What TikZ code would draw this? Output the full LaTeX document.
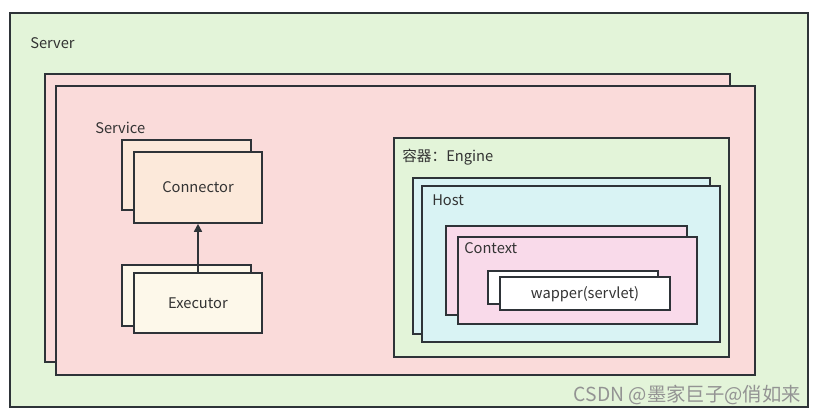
\documentclass[tikz,border=0pt]{standalone}
\usepackage{fontspec}
\setmainfont{Noto Sans CJK SC}
\usetikzlibrary{fit,arrows.meta}
\definecolor{edge}{HTML}{2E3338}
\definecolor{txt}{HTML}{333333}
\definecolor{srvgreen}{HTML}{E3F4D9}
\definecolor{svcpink}{HTML}{FADBDA}
\definecolor{connc}{HTML}{FCE9DA}
\definecolor{execc}{HTML}{FDF8EA}
\definecolor{hostc}{HTML}{D9F3F4}
\definecolor{ctxc}{HTML}{F9DAEA}
\tikzset{
  box/.style={draw=edge, line width=1.2pt, inner sep=0pt, rectangle},
  lbl/.style={text=txt, font=\fontsize{11pt}{13pt}\selectfont, inner sep=0pt},
  arr/.style={draw=edge, line width=1.2pt, -{Triangle[length=6pt,width=6pt]}},
  wmark/.style={text=gray!85, font=\fontsize{14.5pt}{17pt}\selectfont, inner sep=0pt}
}
\begin{document}
\begin{tikzpicture}[x=0.75pt,y=-0.75pt]
\useasboundingbox[fill=white] (0,0) rectangle (815,414);
% Server
\node[box, fill=srvgreen, fit={(10,13) (808,407)}] (server) {};
\node[lbl, anchor=west] (serverlbl) at (30,43) {Server};
% Service (stacked)
\node[box, fill=svcpink, fit={(45,74) (730,362)}] (svcback) {};
\node[box, fill=svcpink, fit={(56,86) (755,375)}] (svc) {};
\node[lbl, anchor=west] (svclbl) at (95,128) {Service};
% Connector
\node[box, fill=connc, fit={(122,140) (251,210)}] (connback) {};
\node[box, fill=connc, fit={(134,152) (262,223)}] (conn) {};
\node[lbl] (connlbl) at (198,187) {Connector};
% Executor
\node[box, fill=execc, fit={(122,265) (251,326)}] (execback) {};
\node[box, fill=execc, fit={(134,273) (262,333)}] (exec) {};
\node[lbl] (execlbl) at (198,303) {Executor};
\draw[arr] (exec.north) -- (conn.south);
% Engine
\node[box, fill=srvgreen, fit={(394,138) (729,357)}] (engine) {};
\node[lbl, anchor=west] (enginelbl) at (402,157) {容器：Engine};
% Host
\node[box, fill=hostc, fit={(413,178) (710,334)}] (hostback) {};
\node[box, fill=hostc, fit={(422,186) (720,342)}] (host) {};
\node[lbl, anchor=west] (hostlbl) at (432,200) {Host};
% Context
\node[box, fill=ctxc, fit={(446,226) (687,315)}] (ctxback) {};
\node[box, fill=ctxc, fit={(458,237) (697,324)}] (ctx) {};
\node[lbl, anchor=west] (ctxlbl) at (464,248) {Context};
% Wrapper
\node[box, fill=white, fit={(488,271) (658,304)}] (wrapback) {};
\node[box, fill=white, fit={(500,277) (670,310)}] (wrap) {};
\node[lbl] (wraplbl) at (585,294) {wapper(servlet)};
% watermark
\node[wmark, anchor=east] (wm) at (801,395) {CSDN @墨家巨子@俏如来};
\end{tikzpicture}
\end{document}
